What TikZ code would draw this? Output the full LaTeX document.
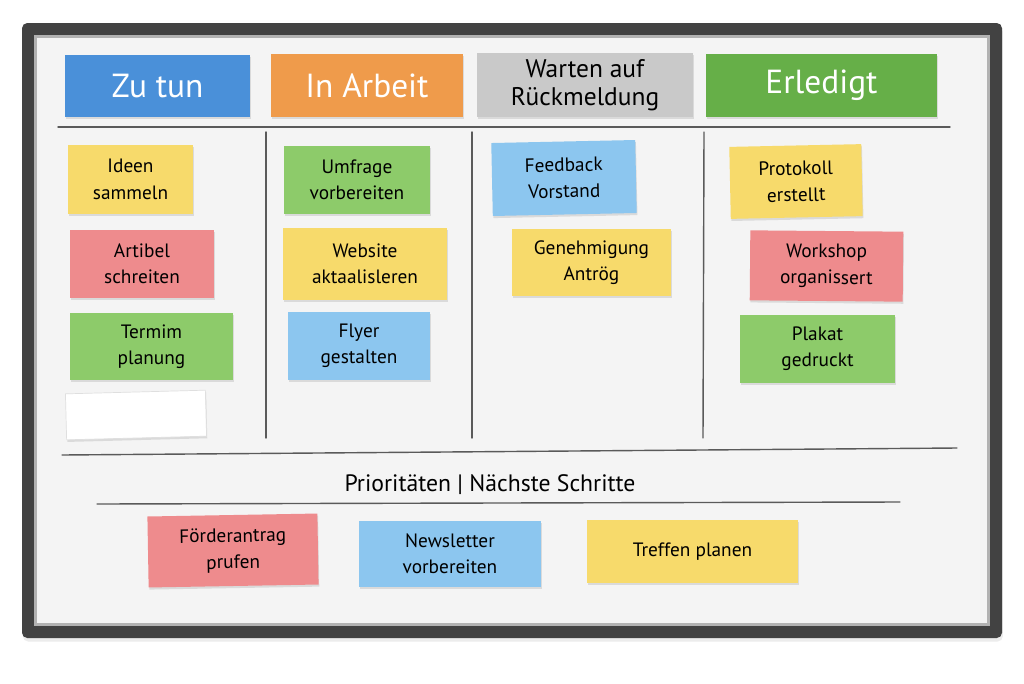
\documentclass[tikz,border=0pt]{standalone}
\usepackage{fontspec}
\setmainfont{PT Sans}
\usetikzlibrary{positioning,shadows}

\definecolor{kopfblau}{HTML}{4A90D9}
\definecolor{kopforange}{HTML}{EF9B4B}
\definecolor{kopfgrau}{HTML}{C9C9C9}
\definecolor{kopfgruen}{HTML}{66AF48}
\definecolor{zettelgelb}{HTML}{F7DA6B}
\definecolor{zettelrot}{HTML}{EE8B8D}
\definecolor{zettelgruen}{HTML}{8DCB6A}
\definecolor{zettelblau}{HTML}{8CC6EF}
\definecolor{tafel}{HTML}{F4F4F4}
\definecolor{rahmen}{HTML}{424242}
\definecolor{strich}{HTML}{5A5A5A}

\begin{document}
\begin{tikzpicture}[x=0.02cm,y=-0.02cm,
  note/.style={inner sep=2pt, align=center, font=\fontsize{11}{15}\selectfont,
    drop shadow={opacity=0.22, shadow xshift=0.4pt, shadow yshift=-1.2pt}},
  head/.style={note, font=\fontsize{19}{22}\selectfont, text=white},
  board line/.style={strich, line width=0.8pt, line cap=round}]

  \useasboundingbox (0,0) rectangle (1024,683);
  \fill[white] (0,0) rectangle (1024,683);

  % frame and board
  \fill[rahmen, rounded corners=3pt,
    drop shadow={opacity=0.15, shadow xshift=0.5pt, shadow yshift=-2pt}]
    (22,23) rectangle (1002,638);
  \fill[gray!60] (34,35) rectangle (990,626);
  \fill[tafel] (37,38) rectangle (987,623);

  % column headers
  \node[head, fill=kopfblau, minimum width=3.7cm, minimum height=1.24cm] (h1) at (157.5,86) {Zu tun};
  \node[head, fill=kopforange, minimum width=3.84cm, minimum height=1.26cm] (h2) at (367,85.5) {In Arbeit};
  \node[head, fill=kopfgrau, text=black, font=\fontsize{14.5}{16}\selectfont,
    minimum width=4.32cm, minimum height=1.28cm] (h3) at (585,85) {Warten auf\\Rückmeldung};
  \node[head, fill=kopfgruen, minimum width=4.62cm, minimum height=1.26cm] (h4) at (821.5,85.5) {Erledigt};

  % lines
  \draw[board line] (58,127) -- (950,127);
  \draw[board line] (266,132) -- (266,438);
  \draw[board line] (472,132) -- (472,438);
  \draw[board line] (704,132) -- (703,438);
  \draw[board line] (62,455) -- (957,448);
  \draw[board line] (97,504) -- (900,502);
  \node[font=\fontsize{13.5}{15}\selectfont] (prio) at (490,485) {Prioritäten | Nächste Schritte};

  % Zu tun
  \node[note, fill=zettelgelb, minimum width=2.5cm, minimum height=1.38cm] (n1) at (130.5,179.5) {Ideen\\sammeln};
  \node[note, fill=zettelrot, minimum width=2.88cm, minimum height=1.36cm] (n2) at (142,264) {Artibel\\schreiten};
  \node[note, fill=zettelgruen, minimum width=3.26cm, minimum height=1.34cm] (n3) at (151.5,346.5) {Termim\\planung};
  \node[note, fill=white, draw=gray!25, minimum width=2.8cm, minimum height=0.92cm, rotate=1.5] (n4) at (136,415) {};

  % In Arbeit
  \node[note, fill=zettelgruen, minimum width=2.92cm, minimum height=1.36cm] (n5) at (357,180) {Umfrage\\vorbereiten};
  \node[note, fill=zettelgelb, minimum width=3.28cm, minimum height=1.44cm] (n6) at (365,264) {Website\\aktaalisleren};
  \node[note, fill=zettelblau, minimum width=2.84cm, minimum height=1.36cm] (n7) at (359,346) {Flyer\\gestalten};

  % Warten auf Rueckmeldung
  \node[note, fill=zettelblau, minimum width=2.88cm, minimum height=1.46cm, rotate=1.2] (n8) at (564,178) {Feedback\\Vorstand};
  \node[note, fill=zettelgelb, minimum width=3.18cm, minimum height=1.34cm] (n9) at (591.5,262.5) {Genehmigung\\Antrög};

  % Erledigt
  \node[note, fill=zettelgelb, minimum width=2.64cm, minimum height=1.44cm, rotate=1.2] (n10) at (796,181.5) {Protokoll\\erstellt};
  \node[note, fill=zettelrot, minimum width=3.06cm, minimum height=1.4cm, rotate=-0.5] (n11) at (826.5,266) {Workshop\\organissert};
  \node[note, fill=zettelgruen, minimum width=3.1cm, minimum height=1.36cm] (n12) at (817.5,349) {Plakat\\gedruckt};

  % Prioritaeten
  \node[note, fill=zettelrot, minimum width=3.4cm, minimum height=1.42cm, rotate=1] (p1) at (233,550.5) {Förderantrag\\prufen};
  \node[note, fill=zettelblau, minimum width=3.64cm, minimum height=1.32cm] (p2) at (450,554) {Newsletter\\vorbereiten};
  \node[note, fill=zettelgelb, minimum width=4.22cm, minimum height=1.26cm] (p3) at (692.5,551.5) {Treffen planen};
\end{tikzpicture}
\end{document}
